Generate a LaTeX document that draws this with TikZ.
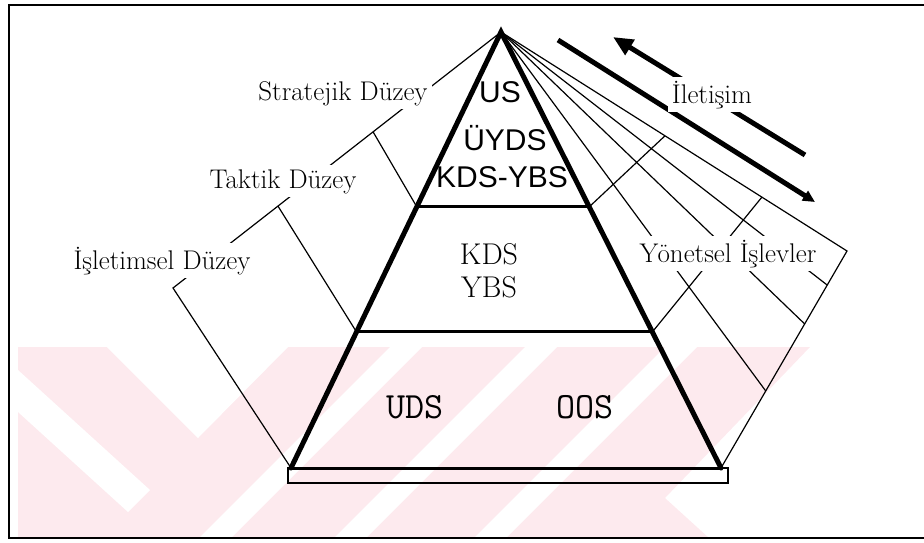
\documentclass[tikz,border=0pt]{standalone}
\usepackage{fontspec}
\usepackage{tikz}
\usetikzlibrary{calc,arrows.meta}
\newfontfamily\arialfont{Liberation Sans}
\definecolor{stamp}{RGB}{253,234,238}

\begin{document}
\begin{tikzpicture}[x=1pt,y=-1pt,
	thinline/.style={line width=1.2pt},
	side/.style={line width=5pt,line cap=round},
	band/.style={line width=3pt},
	lvl/.style={fill=white,inner sep=4pt,anchor=base,font=\fontsize{27}{30}\selectfont},
	inside/.style={anchor=base,font=\arialfont\fontsize{30}{32}\selectfont},
	mid/.style={align=center,font=\fontsize{30}{33}\selectfont},
	low/.style={anchor=base,font=\ttfamily\fontsize{37}{39}\selectfont}]

	\useasboundingbox (0,0) rectangle (924,542);

	% ---- watermark

	\fill[stamp] (18,347) -- (810,347) -- (665,498) -- (709,538) -- (18,538) -- cycle;
	\fill[white] (107,347) -- (198,438) -- (288,347) -- cycle;
	\fill[white] (18,370) -- (150,490) -- (128,512) -- (18,412) -- cycle;
	\foreach \x in {390,525,665} {
		\fill[white] (\x,347) -- (\x+32,347) -- (\x-159,538) -- (\x-191,538) -- cycle;
	}

	% ---- frame

	\draw[line width=2pt] (924,5) -- (9,5) -- (9,538) -- (924,538);

	% ---- coordinates

	\coordinate (A) at (501,32);
	\coordinate (B1) at (291,468);
	\coordinate (B2) at (721,468);
	\coordinate (L) at (173,288);
	\coordinate (R) at (847,251);

	\coordinate (H1l) at ($(A)!0.401!(B1)$);
	\coordinate (H1r) at ($(A)!0.401!(B2)$);
	\coordinate (H2l) at ($(A)!0.688!(B1)$);
	\coordinate (H2r) at ($(A)!0.688!(B2)$);

	% ---- outer lines and ticks

	\draw[thinline] (A) -- (L) -- (B1);
	\draw[thinline] (A) -- (R) -- (B2);

	\draw[thinline] ($(A)!0.39!(L)$) -- (H1l);
	\draw[thinline] ($(A)!0.68!(L)$) -- (H2l);
	\draw[thinline] ($(A)!0.474!(R)$) -- (H1r);
	\draw[thinline] ($(A)!0.754!(R)$) -- (H2r);

	\foreach \t in {0.157,0.336,0.645} { \draw[thinline] (A) -- ($(R)!\t!(B2)$); }

	% ---- pyramid

	\draw[line width=1.5pt] (288,468) rectangle (728,483);
	\draw[band] (B1) -- (B2);
	\draw[band] (H1l) -- (H1r);
	\draw[band] (H2l) -- (H2r);
	\draw[side] (B1) -- (A) -- (B2);

	% ---- communication arrows

	\draw[line width=5pt,-{Triangle[length=20pt,width=17pt]}] (805,155) -- (613,37);
	\draw[line width=5pt,-{Triangle[length=12pt,width=11pt]}] (558,40) -- (815,202);

	% ---- labels

	\node[lvl] (strat) at (343,100) {Stratejik Düzey};
	\node[lvl] (takt) at (283,188) {Taktik Düzey};
	\node[lvl] (islet) at (162,269) {İşletimsel Düzey};
	\node[lvl] (yonet) at (728,262) {Yönetsel İşlevler};
	\node[lvl] (ilet) at (712,103) {İletişim};

	\node[inside] (us) at (500,102) {US};
	\node[inside] (uyds) at (505,150) {ÜYDS};
	\node[inside] (kdsybs) at (502,187) {KDS-YBS};

	\node[mid] (kdsybs2) at (489,271) {KDS\\YBS};

	\node[low] (uds) at (415,418) {UDS};
	\node[low] (oos) at (585,418) {OOS};

\end{tikzpicture}
\end{document}
